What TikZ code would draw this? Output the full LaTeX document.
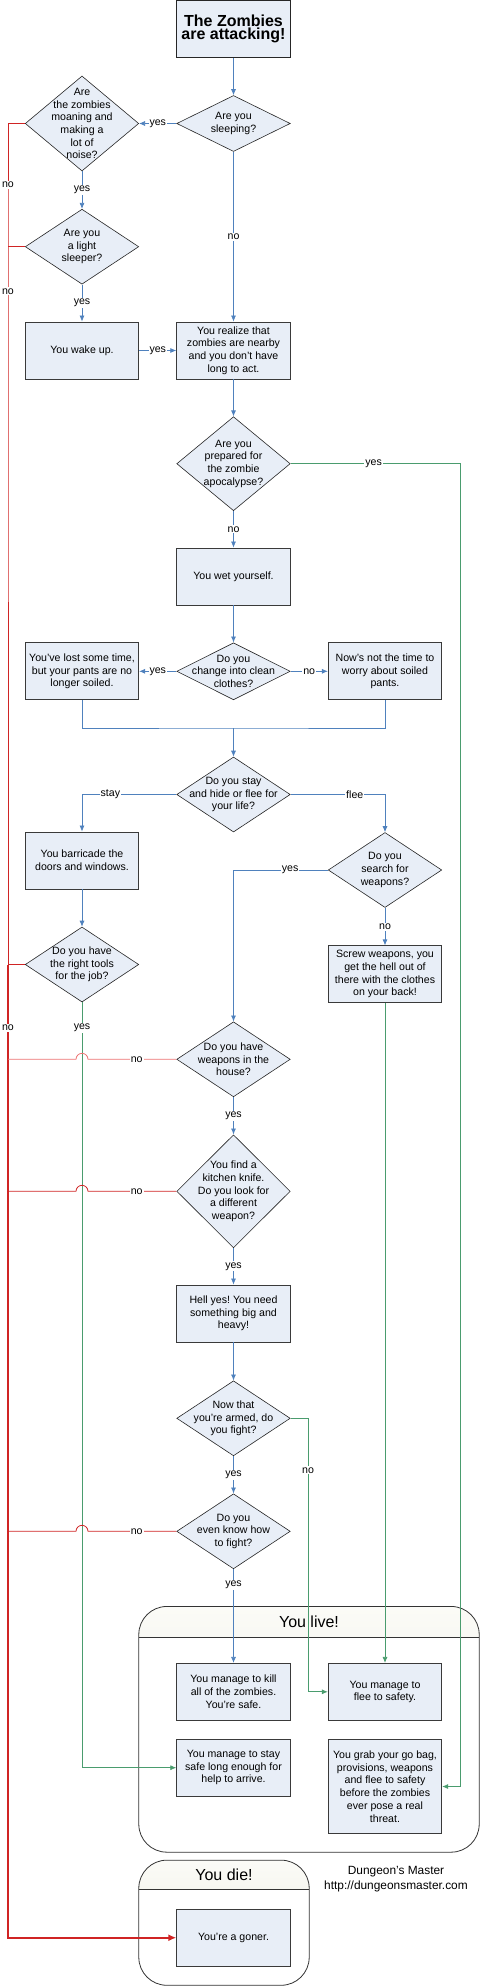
\documentclass[tikz,border=0pt]{standalone}
\usepackage{fontspec}
\setmainfont{Liberation Sans}
\usepackage{xcolor}
\definecolor{boxfill}{HTML}{E8EEF7}
\definecolor{boxline}{HTML}{3A3A3A}
\definecolor{flowblue}{HTML}{4F81BD}
\definecolor{livegreen}{HTML}{4A9C6E}
\definecolor{deadred}{HTML}{D02424}
\definecolor{deadlight}{HTML}{EC7272}
\definecolor{headtop}{HTML}{FBFBF7}
\definecolor{headbot}{HTML}{E9E9DC}
\usetikzlibrary{shapes.geometric,arrows.meta,calc}
\newcommand{\fsbody}{\fontsize{10.6pt}{12.7pt}\selectfont}
\newcommand{\fstitle}{\fontsize{16pt}{18.7pt}\selectfont\bfseries}
\newcommand{\fspool}{\fontsize{16pt}{19pt}\selectfont}
\newcommand{\fscredit}{\fontsize{11.9pt}{14.4pt}\selectfont}

\begin{document}
\begin{tikzpicture}[
  x=1pt, y=-1pt,
  font=\fsbody,
  box/.style={
    rectangle, minimum width=113.5pt, minimum height=#1,
    inner sep=0pt, align=center,
    draw=boxline, fill=boxfill,
    line width=0.8pt
  },
  box/.default=57pt,
  decision/.style={
    diamond, minimum width=113.5pt, minimum height=#1,
    inner sep=0pt,
    draw=black!85, fill=boxfill,
    line width=0.6pt
  },
  qtext/.style={align=center, inner sep=0pt},
  pool/.style={rectangle, inner sep=0pt},
  poolhead/.style={top color=headtop, bottom color=headbot, draw=none},
  poolline/.style={draw=black!80, line width=0.8pt},
  lbl/.style={fill=white, inner sep=1pt, text=black},
  flow/.style={-{Latex[length=6pt,width=5pt]}, line width=0.75pt, color=flowblue},
  live/.style={-{Latex[length=6pt,width=5pt]}, line width=0.75pt, color=livegreen},
  dead/.style={line width=0.8pt, color=deadred},
  deadmain/.style={-{Latex[length=8pt,width=7pt]}, line width=1.6pt, color=deadred}
]
\useasboundingbox (0,0) rectangle (480,1986);

% outcome pools
\node[pool, minimum width=340pt, minimum height=245.3pt] (livepool) at (309,1729.3) {};
\node[pool, minimum width=170pt, minimum height=124.7pt] (diepool) at (224,1922.7) {};
\begin{scope}
  \clip (livepool.north west) rectangle ([yshift=-30.6pt]livepool.north east);
  \shade[poolhead, rounded corners=28pt] (livepool.south west) rectangle (livepool.north east);
\end{scope}
\begin{scope}
  \clip (diepool.north west) rectangle ([yshift=-29.7pt]diepool.north east);
  \shade[poolhead, rounded corners=28pt] (diepool.south west) rectangle (diepool.north east);
\end{scope}
\draw[poolline, rounded corners=28pt] (livepool.south west) rectangle (livepool.north east);
\draw[poolline] ([yshift=-30.6pt]livepool.north west) -- ([yshift=-30.6pt]livepool.north east);
\draw[poolline, rounded corners=28pt] (diepool.south west) rectangle (diepool.north east);
\draw[poolline] ([yshift=-29.7pt]diepool.north west) -- ([yshift=-29.7pt]diepool.north east);
\node (livehead) at ([yshift=-15.3pt]livepool.north) {\fspool You live!};
\node (diehead) at ([yshift=-14.85pt]diepool.north) {\fspool You die!};

% helper columns
\coordinate (trunk) at (8,0);
\coordinate (rgreen) at (460,0);
\coordinate (fgx) at (308,0);
\coordinate (merge) at (233.5,728);

% steps and questions
\node[box, line width=1pt, draw=black!85] (title) at (233.5,29) {\fstitle The Zombies\\\fstitle are attacking!};
\node[decision=56pt, label={[qtext]center:Are you\\sleeping?}] (sleep) at (233.5,123.5) {};
\node[decision=95pt, label={[qtext]center:Are\\the zombies\\moaning and\\making a\\lot of\\noise?}] (moan) at (82,123.5) {};
\node[decision=75pt, label={[qtext]center:Are you\\a light\\sleeper?}] (light) at (82,246.7) {};
\node[box] (wake) at (82,350.5) {You wake up.};
\node[box] (realize) at (233.5,350.5) {You realize that\\zombies are nearby\\and you don’t have\\long to act.};
\node[decision=94pt, label={[qtext]center:Are you\\prepared for\\the zombie\\apocalypse?}] (prep) at (233.5,463.7) {};
\node[box] (wet) at (233.5,576.5) {You wet yourself.};
\node[decision=57pt, label={[qtext]center:Do you\\change into clean\\clothes?}] (clean) at (233.5,671.3) {};
\node[box] (lost) at (82,671.3) {You’ve lost some time,\\but your pants are no\\longer soiled.};
\node[box] (nows) at (385,671.3) {Now’s not the time to\\worry about soiled\\pants.};
\node[decision=75pt, label={[qtext]center:Do you stay\\and hide or flee for\\your life?}] (stay) at (233.5,794.5) {};
\node[box] (barr) at (82,860.5) {You barricade the\\doors and windows.};
\node[decision=75pt, label={[qtext]center:Do you\\search for\\weapons?}] (search) at (385,870) {};
\node[decision=75pt, label={[qtext]center:Do you have\\the right tools\\for the job?}] (tools) at (82,964.5) {};
\node[box] (screw) at (385,974.3) {Screw weapons, you\\get the hell out of\\there with the clothes\\on your back!};
\node[decision=75pt, label={[qtext]center:Do you have\\weapons in the\\house?}] (wpn) at (233.5,1059.3) {};
\node[decision=113pt, label={[qtext]center:You find a\\kitchen knife.\\Do you look for\\a different\\weapon?}] (knife) at (233.5,1191.3) {};
\node[box] (hell) at (233.5,1313.5) {Hell yes!\ You need\\something big and\\heavy!};
\node[decision=75pt, label={[qtext]center:Now that\\you’re armed, do\\you fight?}] (fight) at (233.5,1418.3) {};
\node[decision=75pt, label={[qtext]center:Do you\\even know how\\to fight?}] (know) at (233.5,1531.3) {};

% endings
\node[box] (kill) at (233.5,1691.8) {You manage to kill\\all of the zombies.\\You’re safe.};
\node[box] (flee) at (385,1691.8) {You manage to\\flee to safety.};
\node[box] (safe) at (233.5,1767.7) {You manage to stay\\safe long enough for\\help to arrive.};
\node[box=94.5pt] (gobag) at (385,1786.5) {You grab your go bag,\\provisions, weapons\\and flee to safety\\before the zombies\\ever pose a real\\threat.};
\node[box] (goner) at (233.5,1937.7) {You’re a goner.};
\node[align=center, font=\fscredit] (credit) at (396,1879) {Dungeon’s Master\\http://dungeonsmaster.com};

% main flow
\draw[flow] (title) -- (sleep);
\draw[flow] (sleep) -- node[lbl]{yes} (moan);
\draw[flow] (sleep) -- node[lbl]{no} (realize);
\draw[flow] (moan) -- node[lbl]{yes} (light);
\draw[flow] (light) -- node[lbl]{yes} (wake);
\draw[flow] (wake) -- node[lbl]{yes} (realize);
\draw[flow] (realize) -- (prep);
\draw[flow] (prep) -- node[lbl]{no} (wet);
\draw[flow] (wet) -- (clean);
\draw[flow] (clean) -- node[lbl]{yes} (lost);
\draw[flow] (clean) -- node[lbl]{no} (nows);
\draw[flow, -] (lost.south) |- (merge) -| (nows.south);
\draw[flow] (merge) -- (stay);
\draw[flow] (stay.west) -| node[lbl, pos=0.35]{stay} (barr.north);
\draw[flow] (stay.east) -| node[lbl, pos=0.34]{flee} (search.north);
\draw[flow] (search.west) -| node[lbl, pos=0.2]{yes} (wpn.north);
\draw[flow] (search) -- node[lbl]{no} (screw);
\draw[flow] (barr) -- (tools);
\draw[flow] (wpn) -- node[lbl]{yes} (knife);
\draw[flow] (knife) -- node[lbl]{yes} (hell);
\draw[flow] (hell) -- (fight);
\draw[flow] (fight) -- node[lbl]{yes} (know);
\draw[flow] (know) -- node[lbl, pos=0.17]{yes} (kill);

% ways out alive
\draw[live] (prep.east) -- node[lbl, pos=0.49]{yes} (prep.east -| rgreen) -- (gobag.east -| rgreen) -- (gobag.east);
\draw[live] (tools.south) -- node[lbl, pos=0.033]{yes} (tools.south |- safe.west) -- (safe.west);
\draw[live] (screw) -- (flee);
\draw[live] (fight.east) -- (fight.east -| fgx) -- node[lbl, pos=0.19]{no} (flee.west -| fgx) -- (flee.west);

% ways to die
\draw[dead] (moan.west) -- (moan.west -| trunk) -- node[lbl]{no} (light.west -| trunk) -- node[lbl, pos=0.062]{no} (tools.west -| trunk);
\draw[dead] (light.west) -- (light.west -| trunk);
\draw[dead] (tools.west) -- (tools.west -| trunk);
\draw[deadmain] (tools.west -| trunk) -- node[lbl, pos=0.065]{no} (goner.west -| trunk) -- (goner.west);
\draw[dead, color=deadlight] (wpn.west) -- node[lbl, pos=0.45]{no} ($(wpn.west -| tools.south)+(6,0)$)
  arc[start angle=0, end angle=180, radius=6pt] -- (wpn.west -| trunk);
\draw[dead] (knife.west) -- node[lbl, pos=0.45]{no} ($(knife.west -| tools.south)+(6,0)$)
  arc[start angle=0, end angle=180, radius=6pt] -- (knife.west -| trunk);
\draw[dead] (know.west) -- node[lbl, pos=0.45]{no} ($(know.west -| tools.south)+(6,0)$)
  arc[start angle=0, end angle=180, radius=6pt] -- (know.west -| trunk);
\end{tikzpicture}
\end{document}
